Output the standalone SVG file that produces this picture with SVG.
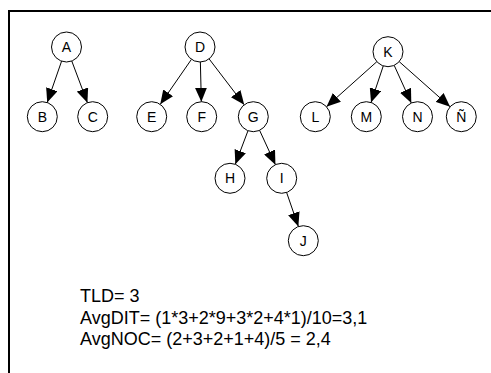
<svg xmlns="http://www.w3.org/2000/svg" width="491" height="373" viewBox="0 0 491 373">
<style>
.n circle{fill:#fff;stroke:#000;stroke-width:1}
.n text{font-family:"Liberation Sans",Arial,sans-serif;font-size:14px;text-anchor:middle;fill:#000}
.e line{stroke:#000;stroke-width:1;marker-end:url(#ah)}
.t{font-family:"Liberation Sans",Arial,sans-serif;font-size:18px;fill:#000}
</style>
<defs>
<marker id="ah" markerUnits="userSpaceOnUse" markerWidth="14" markerHeight="12" refX="14" refY="6" orient="auto">
<path d="M0,0 L14,6 L0,12 z" fill="#000"/>
</marker>
</defs>
<rect x="0" y="0" width="491" height="373" fill="#fff"/>
<rect x="9" y="11" width="520" height="420" fill="none" stroke="#000" stroke-width="2"/>
<g id="connectors" class="e">
<line x1="61.58" y1="61.17" x2="47.22" y2="102.53"/>
<line x1="71.78" y1="61.04" x2="87.42" y2="102.66"/>
<line x1="191.46" y1="59.33" x2="160.24" y2="104.37"/>
<line x1="200.37" y1="62.0" x2="201.33" y2="101.7"/>
<line x1="209.11" y1="58.92" x2="244.19" y2="104.78"/>
<line x1="247.99" y1="130.73" x2="235.31" y2="164.27"/>
<line x1="259.58" y1="130.32" x2="275.42" y2="164.68"/>
<line x1="286.61" y1="192.48" x2="298.39" y2="226.52"/>
<line x1="376.82" y1="61.7" x2="326.48" y2="106.7"/>
<line x1="383.25" y1="65.93" x2="371.05" y2="102.47"/>
<line x1="394.2" y1="65.36" x2="411.3" y2="103.04"/>
<line x1="399.22" y1="61.65" x2="450.08" y2="106.75"/>
</g>
<g id="A" class="n"><circle cx="66.5" cy="47" r="15"/><text x="66.5" y="52">A</text></g>
<g id="B" class="n"><circle cx="42.3" cy="116.7" r="15"/><text x="42.3" y="121.7">B</text></g>
<g id="C" class="n"><circle cx="92.7" cy="116.7" r="15"/><text x="92.7" y="121.7">C</text></g>
<g id="D" class="n"><circle cx="200" cy="47" r="15"/><text x="200" y="52">D</text></g>
<g id="E" class="n"><circle cx="151.7" cy="116.7" r="15"/><text x="151.7" y="121.7">E</text></g>
<g id="F" class="n"><circle cx="201.7" cy="116.7" r="15"/><text x="201.7" y="121.7">F</text></g>
<g id="G" class="n"><circle cx="253.3" cy="116.7" r="15"/><text x="253.3" y="121.7">G</text></g>
<g id="H" class="n"><circle cx="230" cy="178.3" r="15"/><text x="230" y="183.3">H</text></g>
<g id="I" class="n"><circle cx="281.7" cy="178.3" r="15"/><text x="281.7" y="183.3">I</text></g>
<g id="J" class="n"><circle cx="303.3" cy="240.7" r="15"/><text x="303.3" y="245.7">J</text></g>
<g id="K" class="n"><circle cx="388" cy="51.7" r="15"/><text x="388" y="56.7">K</text></g>
<g id="L" class="n"><circle cx="315.3" cy="116.7" r="15"/><text x="315.3" y="121.7">L</text></g>
<g id="M" class="n"><circle cx="366.3" cy="116.7" r="15"/><text x="366.3" y="121.7">M</text></g>
<g id="N" class="n"><circle cx="417.5" cy="116.7" r="15"/><text x="417.5" y="121.7">N</text></g>
<g id="Ntilde" class="n"><circle cx="461.3" cy="116.7" r="15"/><text x="461.3" y="121.7">Ñ</text></g>
<g id="metrics">
<text class="t" x="80" y="302">TLD= 3</text>
<text class="t" x="80" y="323.5">AvgDIT= (1*3+2*9+3*2+4*1)/10=3,1</text>
<text class="t" x="80" y="345">AvgNOC= (2+3+2+1+4)/5 = 2,4</text>
</g>
</svg>
